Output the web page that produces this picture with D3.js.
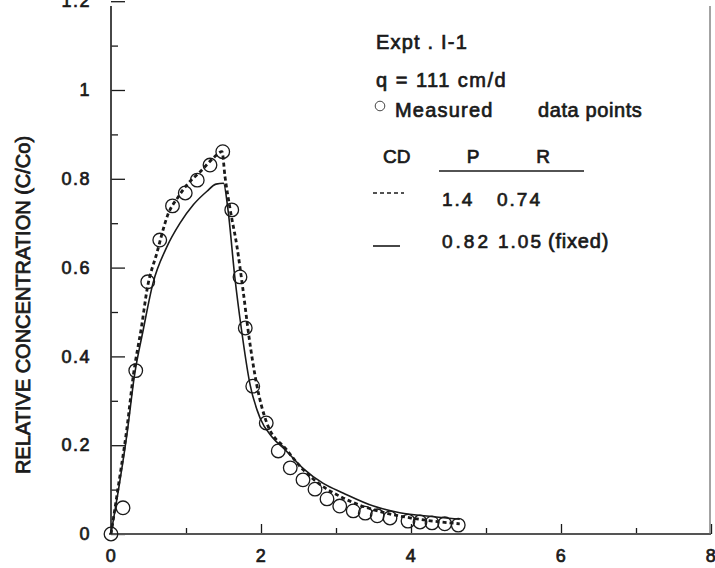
<!DOCTYPE html>
<html>
<head>
<meta charset="utf-8">
<script src="https://cdn.jsdelivr.net/npm/d3@7"></script>
<style>
  body { margin: 0; background: #fff; }
  svg text { font-family: "Liberation Sans", Arial, sans-serif; fill: #1a1a1a; }
</style>
</head>
<body>
<div id="chart"></div>
<script>
// Measured breakthrough data (pore volumes vs C/Co)
const measuredX = [0, 0.16, 0.33, 0.49, 0.65, 0.82, 0.99, 1.15, 1.32, 1.49, 1.61, 1.72, 1.79, 1.89, 2.07, 2.23, 2.39, 2.56, 2.72, 2.88, 3.05, 3.23, 3.39, 3.55, 3.72, 3.96, 4.12, 4.28, 4.45, 4.63];
const measuredY = [0, 0.059, 0.368, 0.568, 0.662, 0.739, 0.768, 0.797, 0.831, 0.861, 0.73, 0.579, 0.464, 0.333, 0.25, 0.187, 0.149, 0.122, 0.101, 0.079, 0.063, 0.052, 0.047, 0.041, 0.036, 0.029, 0.027, 0.025, 0.023, 0.020];

// CD fit P=1.4, R=0.74 (dashed)
const fitDashedX = [0, 0.1, 0.21, 0.30, 0.41, 0.48, 0.61, 0.76, 0.90, 1.03, 1.19, 1.36, 1.48, 1.52, 1.59, 1.68, 1.76, 1.84, 1.94, 2.08, 2.34, 2.56, 2.80, 3.05, 3.30, 3.60, 4.00, 4.30, 4.65];
const fitDashedY = [0, 0.11, 0.235, 0.36, 0.47, 0.55, 0.632, 0.72, 0.76, 0.79, 0.816, 0.846, 0.861, 0.805, 0.73, 0.647, 0.55, 0.444, 0.339, 0.249, 0.19, 0.145, 0.11, 0.085, 0.066, 0.05, 0.036, 0.029, 0.023];

// CD fit P=0.82, R=1.05 fixed (solid)
const fitSolidX = [0, 0.1, 0.22, 0.31, 0.43, 0.56, 0.74, 0.92, 1.10, 1.28, 1.40, 1.50, 1.56, 1.65, 1.74, 1.85, 1.99, 2.15, 2.32, 2.56, 2.83, 3.10, 3.50, 3.85, 4.30, 4.65];
const fitSolidY = [0, 0.10, 0.234, 0.354, 0.46, 0.565, 0.645, 0.70, 0.742, 0.772, 0.788, 0.79, 0.73, 0.58, 0.46, 0.34, 0.26, 0.218, 0.19, 0.148, 0.114, 0.092, 0.063, 0.048, 0.039, 0.033];

const xMajorTicks = [0, 2, 4, 6, 8];
const xMinorTicks = [1, 3, 5, 7];
const yMajorTicks = [0, 0.2, 0.4, 0.6, 0.8, 1, 1.2];
const yMinorTicks = [0.1, 0.3, 0.5, 0.7, 0.9, 1.1];
const yTitle = "RELATIVE CONCENTRATION  (C/Co)";

const width = 715, height = 568;
const svg = d3.select("#chart").append("svg")
    .attr("width", width)
    .attr("height", height);

const x = d3.scaleLinear().domain([0, 8]).range([111, 711]);
const y = d3.scaleLinear().domain([0, 1.2]).range([534, 1.2]);

const ink = "#1a1a1a";

// Axes (ticks point inward)
const yMinor = svg.append("g")
    .attr("transform", `translate(${x(0)},0)`)
    .call(d3.axisLeft(y).tickValues(yMinorTicks).tickSize(-7).tickFormat(""));
const yMajor = svg.append("g")
    .attr("transform", `translate(${x(0)},0)`)
    .call(d3.axisLeft(y).tickValues(yMajorTicks).tickSize(-14).tickPadding(20)
        .tickFormat(d => d === 0 || d === 1 ? d3.format("d")(d) : d3.format(".1f")(d)));
const xMinor = svg.append("g")
    .attr("transform", `translate(0,${y(0)})`)
    .call(d3.axisBottom(x).tickValues(xMinorTicks).tickSize(-6).tickFormat(""));
const xMajor = svg.append("g")
    .attr("transform", `translate(0,${y(0)})`)
    .call(d3.axisBottom(x).tickValues(xMajorTicks).tickSize(-10).tickPadding(15).tickFormat(d3.format("d")));

[yMinor, yMajor, xMinor, xMajor].forEach(g => {
    g.select(".domain").remove();
    g.selectAll("line").attr("stroke", ink).attr("stroke-width", 1.3);
    g.selectAll("text")
        .attr("font-size", 18)
        .attr("letter-spacing", 1.5)
        .attr("fill", ink)
        .attr("stroke", ink).attr("stroke-width", 0.7);
});

// frame lines
svg.append("line")
    .attr("x1", x(0)).attr("x2", x(0)).attr("y1", 6).attr("y2", y(0))
    .attr("stroke", "#333").attr("stroke-width", 1.8);
svg.append("line")
    .attr("x1", x(0) - 2).attr("x2", x(8)).attr("y1", y(0)).attr("y2", y(0))
    .attr("stroke", "#555").attr("stroke-width", 2);
svg.append("line")
    .attr("x1", x(8) - 1).attr("x2", x(8) - 1).attr("y1", 6).attr("y2", y(0))
    .attr("stroke", "#666").attr("stroke-width", 1.2);

// y axis title
svg.append("text")
    .attr("transform", `translate(30,${(130 + 480) / 2}) rotate(-90)`)
    .attr("text-anchor", "middle")
    .attr("font-size", 20)
    .attr("stroke", ink).attr("stroke-width", 0.8)
    .text(yTitle);

// fitted curves
const line = d3.line().x(d => x(d[0])).y(d => y(d[1])).curve(d3.curveMonotoneX);

svg.append("path")
    .datum(fitSolidX.map((v, i) => [v, fitSolidY[i]]))
    .attr("d", line)
    .attr("fill", "none")
    .attr("stroke", ink)
    .attr("stroke-width", 1.6);

svg.append("path")
    .datum(fitDashedX.map((v, i) => [v, fitDashedY[i]]))
    .attr("d", line)
    .attr("fill", "none")
    .attr("stroke", ink)
    .attr("stroke-width", 2.8)
    .attr("stroke-dasharray", "4,3");

// measured points
svg.append("g")
    .selectAll("circle")
    .data(measuredX.map((v, i) => [v, measuredY[i]]))
    .join("circle")
    .attr("cx", d => x(d[0]))
    .attr("cy", d => y(d[1]))
    .attr("r", 6.8)
    .attr("fill", "none")
    .attr("stroke", ink)
    .attr("stroke-width", 1.3);

// legend block
const leg = svg.append("g")
    .attr("font-size", 20)
    .attr("stroke", ink).attr("stroke-width", 0.7);

leg.append("text").attr("x", 376).attr("y", 49).attr("letter-spacing", 1.2).text("Expt . I-1");
leg.append("text").attr("x", 376).attr("y", 87).attr("letter-spacing", 1.5).text("q = 111 cm/d");
svg.append("circle").attr("cx", 380).attr("cy", 106).attr("r", 4.8)
    .attr("fill", "none").attr("stroke", "#444").attr("stroke-width", 1);
leg.append("text").attr("x", 395).attr("y", 117).attr("letter-spacing", 1.2).text("Measured");
leg.append("text").attr("x", 538).attr("y", 117).attr("letter-spacing", 0.6).text("data points");

leg.append("text").attr("x", 383).attr("y", 163).attr("font-size", 19).text("CD");
leg.append("text").attr("x", 473).attr("y", 163).attr("font-size", 19).attr("text-anchor", "middle").text("P");
leg.append("text").attr("x", 543).attr("y", 163).attr("font-size", 19).attr("text-anchor", "middle").text("R");
svg.append("line").attr("x1", 439).attr("x2", 584).attr("y1", 171).attr("y2", 171)
    .attr("stroke", ink).attr("stroke-width", 1.3);

svg.append("line").attr("x1", 373).attr("x2", 404).attr("y1", 193).attr("y2", 193)
    .attr("stroke", ink).attr("stroke-width", 1.4).attr("stroke-dasharray", "4,3");
leg.append("text").attr("x", 442).attr("y", 206).attr("font-size", 19).attr("letter-spacing", 2).text("1.4");
leg.append("text").attr("x", 497).attr("y", 206).attr("font-size", 19).attr("letter-spacing", 2).text("0.74");

svg.append("line").attr("x1", 373).attr("x2", 400).attr("y1", 246).attr("y2", 246)
    .attr("stroke", ink).attr("stroke-width", 1.6);
leg.append("text").attr("x", 442).attr("y", 248).attr("font-size", 19).attr("letter-spacing", 3).text("0.82");
leg.append("text").attr("x", 498).attr("y", 248).attr("font-size", 19).attr("letter-spacing", 2).text("1.05");
leg.append("text").attr("x", 548).attr("y", 248).attr("letter-spacing", 0.8).text("(fixed)");
</script>
</body>
</html>
